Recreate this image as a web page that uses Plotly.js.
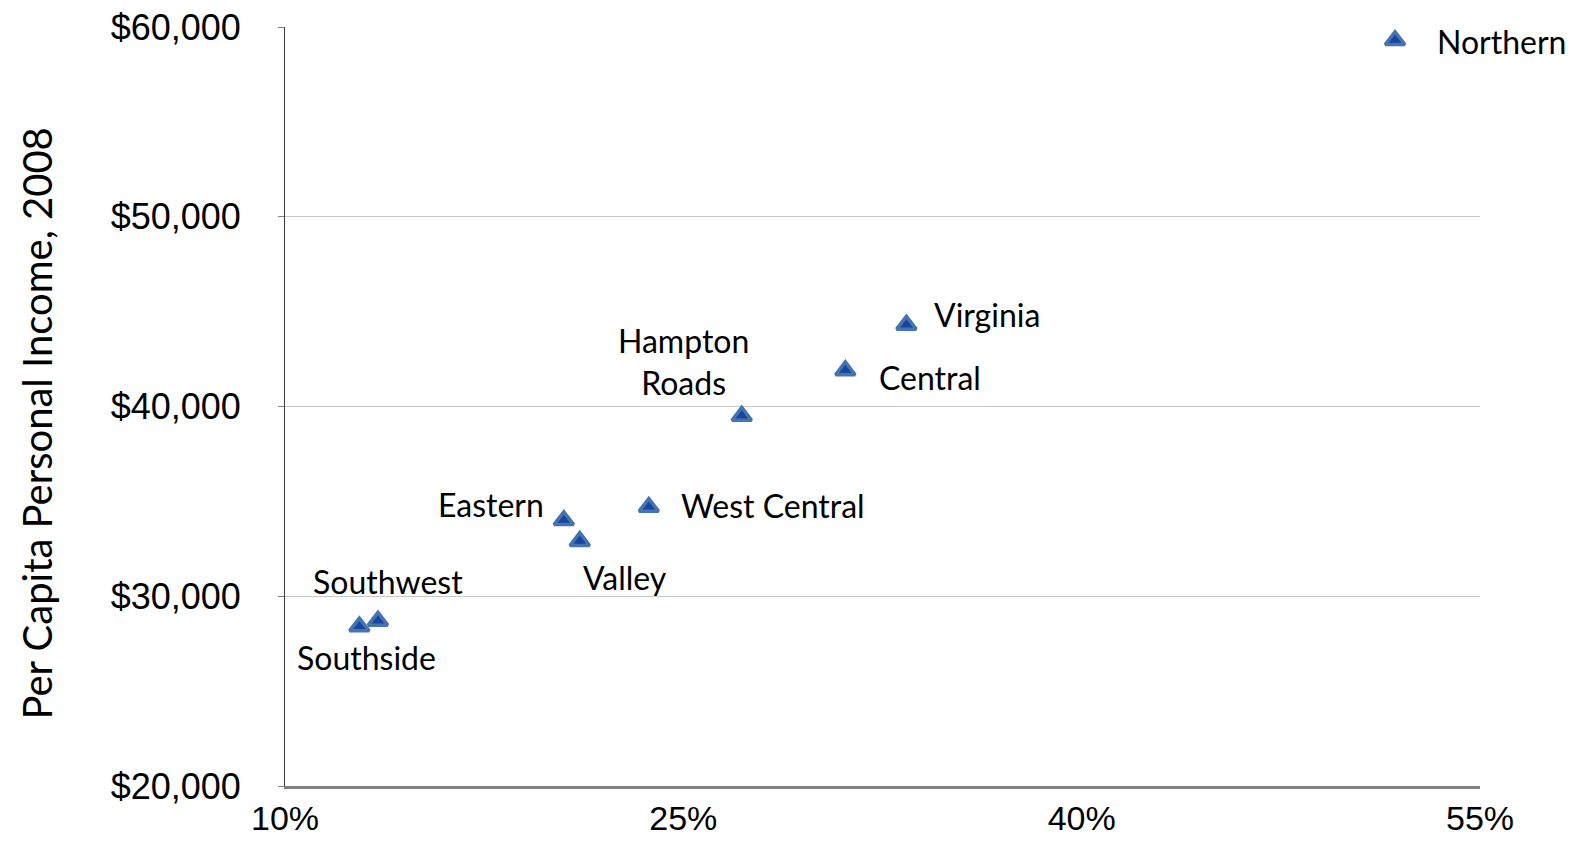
<!DOCTYPE html>
<html>
<head>
<meta charset="utf-8">
<script src="https://cdn.plot.ly/plotly-3.0.1.min.js"></script>
<style>
  html, body { margin: 0; padding: 0; background: #ffffff; }
  #chart { width: 1579px; height: 843px; }
</style>
</head>
<body>
<div id="chart"></div>
<script>
// ---- data ----
const regions = ["Northern", "Virginia", "Central", "Hampton<br>Roads", "West Central", "Eastern", "Valley", "Southwest", "Southside"];
const pctValues = [51.8, 33.4, 31.1, 27.2, 23.7, 20.5, 21.1, 13.5, 12.8];          // x, percent
const incomeValues = [59300, 44300, 41900, 39500, 34700, 34000, 32900, 28700, 28400]; // per capita income, 2008
const xTickVals = [10, 25, 40, 55];
const xTickText = ["10%", "25%", "40%", "55%"];
const yTickVals = [20000, 30000, 40000, 50000, 60000];
const yTickText = ["$20,000", "$30,000", "$40,000", "$50,000", "$60,000"];
const yTitle = "Per Capita Personal Income, 2008";

// ---- label placement (style) ----
const labelPlacement = {
  "Northern":        { xanchor: "left",   xshift: 40,  yshift: -1 },
  "Virginia":        { xanchor: "left",   xshift: 26,  yshift: 10 },
  "Central":         { xanchor: "left",   xshift: 32,  yshift: -7 },
  "Hampton<br>Roads":{ xanchor: "center", xshift: -58, yshift: 54 },
  "West Central":    { xanchor: "left",   xshift: 30,  yshift: 2 },
  "Eastern":         { xanchor: "right",  xshift: -18, yshift: 16 },
  "Valley":          { xanchor: "center", xshift: 45,  yshift: -36 },
  "Southwest":       { xanchor: "center", xshift: 10,  yshift: 39 },
  "Southside":       { xanchor: "center", xshift: 7,   yshift: -31 }
};

const labelFont = { family: "Lato, 'Open Sans', sans-serif", size: 32, color: "#000000" };
const tickFont = { family: "'Liberation Sans', Arial, sans-serif", size: 36, color: "#000000" };
const xTickFont = { family: "'Liberation Sans', Arial, sans-serif", size: 34, color: "#000000" };

const trace = {
  type: "scatter",
  mode: "markers",
  x: pctValues,
  y: incomeValues,
  text: regions,
  cliponaxis: false,
  hoverinfo: "text",
  marker: {
    symbol: "triangle-up",
    size: 17,
    color: "#1646a0",
    line: { color: "#4574b0", width: 3.5 }
  },
  showlegend: false
};

const annotations = regions.map((r, i) => {
  const p = labelPlacement[r];
  return {
    x: pctValues[i],
    y: incomeValues[i],
    xref: "x",
    yref: "y",
    text: r,
    showarrow: false,
    xanchor: p.xanchor,
    yanchor: "middle",
    xshift: p.xshift,
    yshift: p.yshift,
    font: labelFont,
    align: "center"
  };
});

// y-axis title, drawn as a rotated annotation so it can sit where the original places it
annotations.push({
  x: 0, y: 0.5, xref: "paper", yref: "paper",
  xanchor: "center", yanchor: "middle",
  xshift: -249, yshift: -17,
  textangle: -90,
  text: yTitle,
  showarrow: false,
  font: { family: "Lato, 'Open Sans', sans-serif", size: 40, color: "#000000" }
});

const layout = {
  width: 1579,
  height: 843,
  margin: { l: 285, r: 99, t: 27, b: 57 },
  paper_bgcolor: "#ffffff",
  plot_bgcolor: "#ffffff",
  showlegend: false,
  xaxis: {
    range: [10, 55],
    tickvals: xTickVals,
    ticktext: xTickText,
    tickfont: xTickFont,
    showgrid: false,
    zeroline: false,
    showline: true,
    linecolor: "#808080",
    linewidth: 2.5,
    ticks: "",
    ticklabelstandoff: 1,
    fixedrange: true
  },
  yaxis: {
    range: [20000, 60000],
    tickvals: yTickVals,
    ticktext: yTickText,
    tickfont: tickFont,
    showgrid: true,
    gridcolor: "#c8c8c8",
    gridwidth: 1,
    zeroline: false,
    showline: true,
    linecolor: "#3a3a3a",
    linewidth: 1,
    ticks: "outside",
    ticklen: 6,
    tickcolor: "#808080",
    tickwidth: 1,
    ticklabelstandoff: 30,
    fixedrange: true
  },
  annotations: annotations
};

Plotly.newPlot("chart", [trace], layout, { displayModeBar: false, staticPlot: true });
</script>
</body>
</html>
